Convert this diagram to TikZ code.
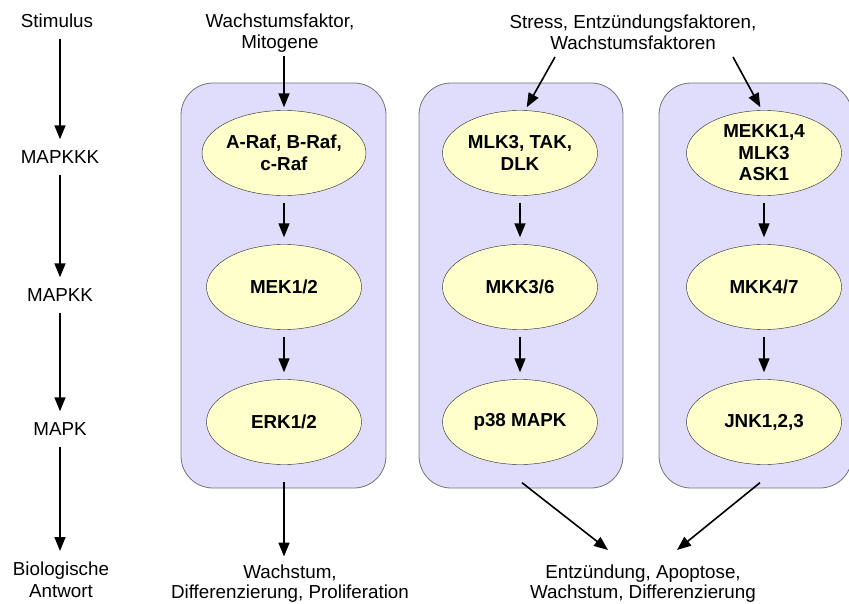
\documentclass[tikz,border=0pt]{standalone}
\usepackage{fontspec}
\setmainfont{Liberation Sans}
\usetikzlibrary{shapes.geometric,arrows.meta}
\definecolor{boxfill}{RGB}{224,220,252}
\definecolor{enzfill}{RGB}{255,255,204}
\newcommand{\diagfont}{\fontsize{18.8}{21.5}\selectfont}
\tikzset{
    arr/.style={line width=1.6pt,-{Triangle[length=14pt,width=11pt]}},
    pathway/.style={draw=black!55,fill=boxfill,rounded corners=32pt,line width=0.8pt},
    enzyme/.style={ellipse,draw=black!85,fill=enzfill,minimum width=155pt,minimum height=85pt,inner sep=0pt,align=center,font=\diagfont\bfseries},
    stage/.style={inner sep=0pt,text height=13pt,text depth=0pt},
    lbl/.style={inner sep=0pt,align=center,anchor=north}
}
\begin{document}
\begin{tikzpicture}[x=1pt,y=-1pt,font=\diagfont]
    \useasboundingbox (0,0) rectangle (849,604);

    \filldraw[pathway] (181,83) rectangle (386,488);
    \filldraw[pathway] (419,83) rectangle (623,488);
    \filldraw[pathway] (659,83) rectangle (852,488);

    \node[stage] (stim) at (57,21) {Stimulus};
    \node[stage] (kkk) at (60,157) {MAPKKK};
    \node[stage] (kk) at (60,295) {MAPKK};
    \node[stage] (k) at (60,429) {MAPK};
    \node[lbl] (ant) at (61,562) {Biologische\\Antwort};

    \draw[arr,shorten <=11pt,shorten >=11pt] (stim.south -| kkk) -- (kkk);
    \draw[arr,shorten <=11pt,shorten >=11pt] (kkk) -- (kk);
    \draw[arr,shorten <=11pt,shorten >=11pt] (kk) -- (k);
    \draw[arr,shorten <=11pt,shorten >=11pt] (k) -- (k |- ant.north);

    \node[enzyme] (raf) at (284,153) {A-Raf, B-Raf,\\c-Raf};
    \node[enzyme] (mek) at (284,287) {MEK1/2};
    \node[enzyme] (erk) at (284,422) {ERK1/2};

    \node[enzyme] (mlk) at (520,153) {MLK3, TAK,\\DLK};
    \node[enzyme] (mkk) at (520,287) {MKK3/6};
    \node[enzyme] (p38) at (520,422) {p38 MAPK};

    \node[enzyme] (mekk) at (764,153) {MEKK1,4\\MLK3\\ASK1};
    \node[enzyme] (mkk47) at (764,287) {MKK4/7};
    \node[enzyme] (jnk) at (764,422) {JNK1,2,3};

    \foreach \a/\b in {raf/mek,mek/erk,mlk/mkk,mkk/p38,mekk/mkk47,mkk47/jnk}
        \draw[arr,shorten <=7pt,shorten >=7pt] (\a) -- (\b);

    \node[lbl] (wf) at (280,13.5) {Wachstumsfaktor,\\Mitogene};
    \node[lbl] (st) at (633,14.5) {Stress, Entzündungsfaktoren,\\Wachstumsfaktoren};
    \coordinate (st1) at (555,57);
    \coordinate (st2) at (733,57);

    \draw[arr,shorten <=3pt,shorten >=3pt] (wf.south -| raf) -- (raf);
    \draw[arr,shorten >=3.5pt] (st1) -- ([xshift=5pt]mlk.north);
    \draw[arr,shorten >=3.5pt] (st2) -- ([xshift=-2pt]mekk.north);

    \node[lbl,font=\fontsize{18.8}{19.5}\selectfont] (wd) at (290,565) {Wachstum,\\Differenzierung, Proliferation};
    \node[lbl,font=\fontsize{18.8}{19.5}\selectfont] (en) at (643,565) {Entzündung, Apoptose,\\Wachstum, Differenzierung};

    \draw[arr,shorten <=17.5pt,shorten >=8.5pt] (erk.south) -- (erk.south |- wd.north);
    \draw[arr] ([xshift=2pt,yshift=-18pt]p38.south) -- ([xshift=-35pt,yshift=15pt]en.north);
    \draw[arr] ([xshift=-4pt,yshift=-18pt]jnk.south) -- ([xshift=34pt,yshift=15pt]en.north);
\end{tikzpicture}
\end{document}
